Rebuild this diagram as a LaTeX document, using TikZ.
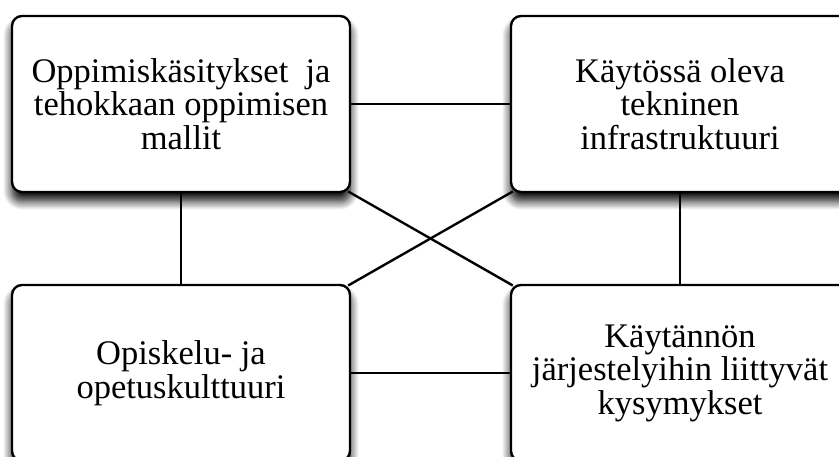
\documentclass[tikz,border=0pt]{standalone}
\usepackage{fontspec}
\setmainfont{Liberation Serif}
\usetikzlibrary{shadows.blur}
\begin{document}
\begin{tikzpicture}[x=1pt,y=1pt,
  topic/.style={draw=black, line width=2.4pt, fill=white, rounded corners=10pt,
    minimum width=338pt, minimum height=176pt, inner sep=0pt, align=center,
    font=\fontsize{34.5}{33.5}\selectfont,
    blur shadow={shadow xshift=0pt, shadow yshift=-9pt,
      shadow blur radius=9pt, shadow opacity=100, shadow blur steps=12}},
  link/.style={draw=black, line width=2.4pt},
  corner/.style={shorten <=-3.5pt, shorten >=-3.5pt}]
\useasboundingbox (0,0) rectangle (839,457);
\clip (0,0) rectangle (839,457);

% the four topics
\node[topic] (tl) at (181,353) {Oppimiskäsitykset\ \ ja\\tehokkaan oppimisen\\mallit};
\node[topic] (tr) at (680,353) {Käytössä oleva\\tekninen\\infrastruktuuri};
\node[topic] (bl) at (181,84) {Opiskelu- ja\\opetuskulttuuri};
\node[topic] (br) at (680,84) {Käytännön\\järjestelyihin liittyvät\\kysymykset};

% every topic is linked to every other one
\draw[link] (tl.east) -- (tr.west);
\draw[link] (bl.east) -- (br.west);
\draw[link] (tl.south) -- (bl.north);
\draw[link] (tr.south) -- (br.north);
\draw[link, corner] (tl.south east) -- (br.north west);
\draw[link, corner] (bl.north east) -- (tr.south west);
\end{tikzpicture}
\end{document}
